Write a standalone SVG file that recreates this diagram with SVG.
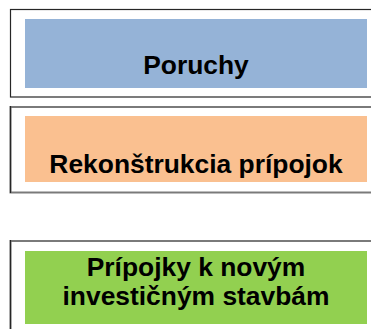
<svg xmlns="http://www.w3.org/2000/svg" width="371" height="329" viewBox="0 0 371 329">
<style>
.frame{fill:#fff;stroke:#262626;stroke-width:1.2}
.frame2{fill:#fff;stroke:#7a7a7a;stroke-width:2}
.edge{stroke:#262626;stroke-width:1.2}
.lbl{font-family:"Liberation Sans",Arial,sans-serif;font-weight:bold;font-size:26.4px;fill:#000;text-anchor:middle}
</style>
<rect width="371" height="329" fill="#fff"/>
<g id="connectors"/>
<g id="node-poruchy">
<rect class="frame" x="10.5" y="9.5" width="380" height="87.5"/>
<rect x="25" y="19" width="342" height="69" fill="#95B3D7"/>
<text class="lbl" x="196" y="73.5">Poruchy</text>
</g>
<g id="node-rekonstrukcia">
<rect class="frame2" x="10.5" y="107" width="380" height="85.5"/>
<line class="edge" x1="10.5" y1="106" x2="10.5" y2="193"/>
<rect x="25" y="116" width="342" height="66" fill="#FAC090"/>
<text class="lbl" x="196" y="173">Rekonštrukcia prípojok</text>
</g>
<g id="node-pripojky">
<rect class="frame2" x="10.5" y="241" width="380" height="100"/>
<line class="edge" x1="10.5" y1="240" x2="10.5" y2="329"/>
<rect x="25" y="251" width="342" height="73" fill="#92D050"/>
<text class="lbl" x="196" y="276">Prípojky k novým</text>
<text class="lbl" x="196" y="305">investičným stavbám</text>
</g>
</svg>
